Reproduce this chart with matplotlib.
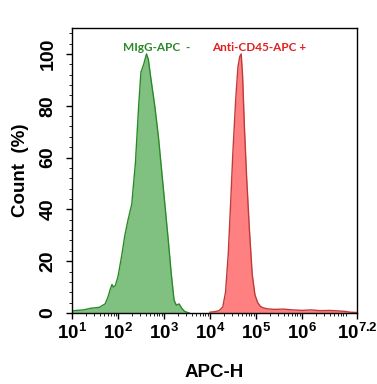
import matplotlib
matplotlib.use("Agg")
import matplotlib.pyplot as plt
import numpy as np
from matplotlib.ticker import FixedLocator, NullFormatter

plt.rcParams['font.family'] = ['Liberation Sans', 'DejaVu Sans']
plt.rcParams['mathtext.fontset'] = 'custom'
plt.rcParams['mathtext.rm'] = 'Liberation Sans:bold'
plt.rcParams['mathtext.bf'] = 'Liberation Sans:bold'
plt.rcParams['mathtext.it'] = 'Liberation Sans:bold'

# Isotype control (MIgG-APC) histogram: log10(APC-H) and Count (%)
green_log_x = [1.0, 1.1, 1.25, 1.4, 1.5, 1.6, 1.65, 1.72, 1.78, 1.83, 1.87, 1.9, 1.94,
               2.0, 2.08, 2.15, 2.22, 2.3, 2.38, 2.45, 2.5, 2.56, 2.62, 2.66, 2.72,
               2.8, 2.88, 2.95, 3.02, 3.1, 3.16, 3.22, 3.27, 3.33, 3.38, 3.45, 3.55]
green_y = [0.8, 1.0, 1.2, 1.8, 2.0, 2.2, 2.8, 3.5, 6.0, 9.0, 11.0, 10.0, 10.5,
           14.0, 22.0, 30.0, 36.0, 42.0, 58.0, 80.0, 93.0, 96.0, 100.0, 98.0, 90.0,
           80.0, 68.0, 55.0, 42.0, 27.0, 15.0, 5.0, 3.0, 3.5, 2.0, 0.6, 0.0]

# Anti-CD45-APC stained cells histogram
red_log_x = [4.0, 4.1, 4.2, 4.28, 4.34, 4.4, 4.45, 4.5, 4.56, 4.61, 4.65, 4.68, 4.71,
             4.75, 4.8, 4.86, 4.92, 4.98, 5.04, 5.1, 5.16, 5.25, 5.4, 5.6, 5.8,
             6.0, 6.2, 6.4, 6.6, 6.8, 6.95, 7.05, 7.2]
red_y = [0.3, 0.5, 0.9, 2.3, 8.0, 23.0, 42.0, 62.0, 82.0, 95.0, 99.0, 100.0, 92.0,
         72.0, 52.0, 32.0, 15.0, 7.0, 4.0, 2.5, 2.0, 1.6, 1.4, 1.5, 1.2,
         1.0, 1.2, 0.9, 1.0, 0.8, 0.6, 0.3, 0.2]

x_tick_exps = [1, 2, 3, 4, 5, 6, 7.2]
x_tick_labels = [r'$10^{1}$', r'$10^{2}$', r'$10^{3}$', r'$10^{4}$', r'$10^{5}$',
                 r'$10^{6}$', r'$10^{7.2}$']
y_ticks = [0, 20, 40, 60, 80, 100]

fig = plt.figure(figsize=(3.77, 3.84), dpi=100)
ax = fig.add_axes([72/377, 1-313/384, 285/377, 285/384])

gx = 10 ** np.array(green_log_x)
rx = 10 ** np.array(red_log_x)
ax.fill_between(gx, 0, green_y, color='#80c080', linewidth=0)
ax.plot(gx, green_y, color='#2a8a2a', linewidth=1.0)
ax.fill_between(rx, 0, red_y, color='#ff8080', linewidth=0)
ax.plot(rx, red_y, color='#c03a3a', linewidth=1.0)

ax.set_xscale('log')
ax.set_xlim(10 ** 1, 10 ** 7.2)
ax.set_ylim(0, 110)

ax.xaxis.set_major_locator(FixedLocator([10 ** e for e in x_tick_exps]))
ax.set_xticklabels(x_tick_labels, fontsize=13.5)
minor = [m * 10 ** d for d in range(1, 8) for m in range(2, 10) if m * 10 ** d < 10 ** 7.2]
ax.xaxis.set_minor_locator(FixedLocator(minor))
ax.xaxis.set_minor_formatter(NullFormatter())

ax.set_yticks(y_ticks)
ax.set_yticklabels([str(v) for v in y_ticks], fontsize=14, fontweight='bold',
                   rotation=90, va='center')
ax.set_yticks(np.arange(0, 111, 4), minor=True)

ax.tick_params(axis='x', which='major', direction='out', length=4, width=1, pad=3)
ax.tick_params(axis='y', which='major', direction='out', length=4, width=1, pad=7)
ax.tick_params(axis='both', which='minor', direction='out', length=2, width=0.6)
for s in ax.spines.values():
    s.set_linewidth(1.0)

ax.set_xlabel('APC-H', fontsize=13.5, fontweight='bold', labelpad=15)
ax.set_ylabel('Count  (%)', fontsize=13.5, fontweight='bold', labelpad=8)

ax.text(0.179, 0.93, 'MIgG-APC  -', transform=ax.transAxes, color='#2a8a2a',
        fontsize=8.5, fontweight='bold', family=['Lato', 'DejaVu Sans'], va='center', ha='left')
ax.text(0.49, 0.93, 'Anti-CD45-APC +', transform=ax.transAxes, color='#e02020',
        fontsize=8.5, fontweight='bold', family=['Lato', 'DejaVu Sans'], va='center', ha='left')

fig.savefig('out.png', dpi=100)
